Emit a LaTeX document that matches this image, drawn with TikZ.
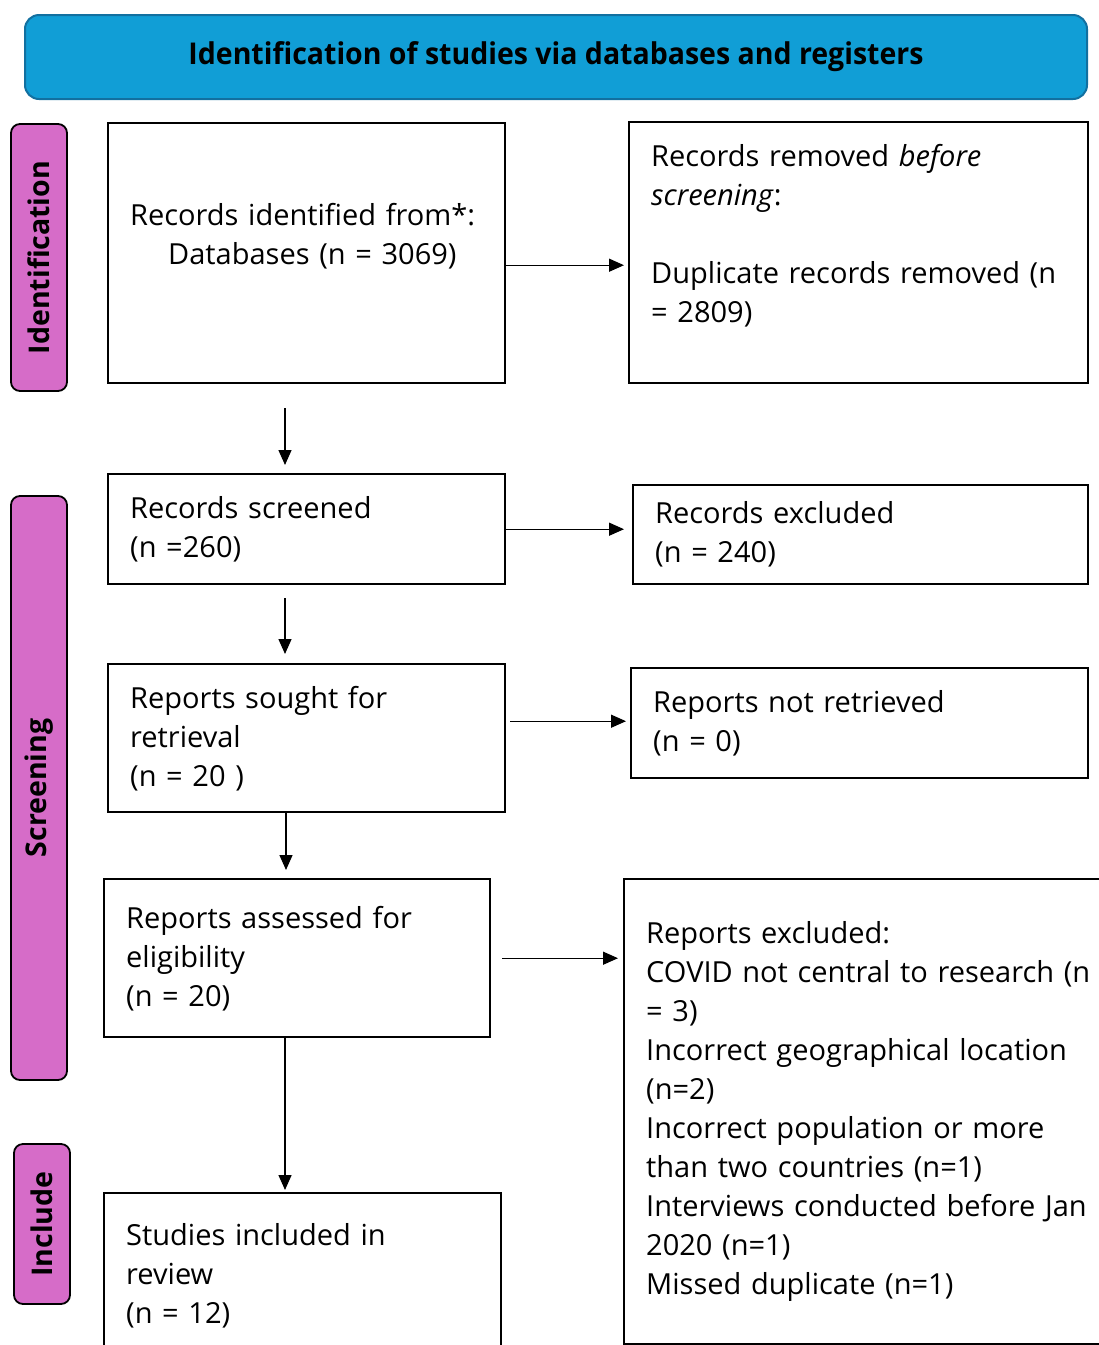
\documentclass[tikz,border=0pt]{standalone}
\usepackage{fontspec}
\setmainfont{Open Sans}
\usepackage{graphicx}
\usetikzlibrary{arrows.meta}
\definecolor{hdrblue}{RGB}{17,158,214}
\definecolor{hdredge}{RGB}{18,112,160}
\definecolor{stagepink}{RGB}{214,108,200}
\tikzset{
  box/.style={draw, line width=2.4pt, align=left, anchor=north west,
    inner xsep=22pt, inner ysep=0pt, font=\fontsize{29}{39}\selectfont},
  stage/.style={draw, line width=1.8pt, rounded corners=9pt, fill=stagepink,
    rotate=90, inner sep=0pt, minimum height=56pt,
    font=\bfseries\fontsize{28.5}{30}\selectfont},
  flow/.style={line width=1.4pt, -{Triangle[length=15pt,width=13pt]}},
}
\begin{document}
\begin{tikzpicture}[x=1pt,y=-1pt]
  \clip (0,0) rectangle (1099,1345);
  \useasboundingbox (0,0) rectangle (1099,1345);
  % header
  \node[draw=hdredge, fill=hdrblue, rounded corners=14pt, line width=2pt,
    minimum width=1062pt, minimum height=84pt] (head) at (556,57)
    {\scalebox{0.95}[1]{\bfseries\fontsize{30}{34}\selectfont Identification of studies via databases and registers}};
  % stages
  \node[stage, minimum width=267pt] (sident) at (39,257.5) {Identification};
  \node[stage, minimum width=584pt] (sscreen) at (39,788) {Screening};
  \node[stage, minimum width=160pt] (sinc) at (42,1224) {Include};
  % boxes
  \node[box, text width=353pt, minimum height=260pt] (ident) at (107,122)
    {Records identified from*:\\\hspace*{38pt}Databases (n = 3069)\\\mbox{}};
  \node[box, text width=415pt, minimum height=261pt] (removed) at (628,121)
    {Records removed \textit{before}\\\textit{screening}:\\\mbox{}\\Duplicate records removed (n\\= 2809)\\\mbox{}};
  \node[box, text width=353pt, minimum height=110pt] (screened) at (107,473)
    {Records screened\\(n =260)};
  \node[box, text width=411pt, minimum height=99pt] (excl) at (632,484)
    {Records excluded\\(n = 240)};
  \node[box, text width=353pt, minimum height=148pt] (sought) at (107,663)
    {Reports sought for\\retrieval\\(n = 20 )};
  \node[box, text width=413pt, minimum height=110pt] (notret) at (630,667)
    {Reports not retrieved\\(n = 0)};
  \node[box, text width=342pt, minimum height=158pt] (assessed) at (103,878)
    {Reports assessed for\\eligibility\\(n = 20)};
  \node[box, text width=476pt, minimum height=465pt] (repexcl) at (623,878)
    {Reports excluded:\\COVID not central to research (n\\= 3)\\Incorrect geographical location\\(n=2)\\Incorrect population or more\\than two countries (n=1)\\Interviews conducted before Jan\\2020 (n=1)\\Missed duplicate (n=1)};
  \node[box, text width=353pt, minimum height=165pt] (incl) at (103,1192)
    {Studies included in\\review\\(n = 12)};
  % connectors
  \coordinate (spine) at (285,0);
  \coordinate (ae) at ([yshift=-12pt]ident.east);
  \coordinate (ee) at ([yshift=17pt]sought.east);
  \draw[flow, shorten >=4pt] (ae) -- (ae -| removed.west);
  \draw[flow, shorten >=8pt] (screened.east) -- (screened.east -| excl.west);
  \draw[flow, shorten <=4pt, shorten >=4pt] (ee) -- (ee -| notret.west);
  \draw[flow, shorten <=11pt, shorten >=5pt] (assessed.east) -- (assessed.east -| repexcl.west);
  \draw[flow, shorten <=24pt, shorten >=8pt] (ident.south -| spine) -- (screened.north -| spine);
  \draw[flow, shorten <=13pt, shorten >=9pt] (screened.south -| spine) -- (sought.north -| spine);
  \draw[flow, shorten >=8pt] ([xshift=1pt]sought.south -| spine) -- ([xshift=1pt]assessed.north -| spine);
  \draw[flow, shorten >=2pt] (assessed.south -| spine) -- (incl.north -| spine);
\end{tikzpicture}
\end{document}
